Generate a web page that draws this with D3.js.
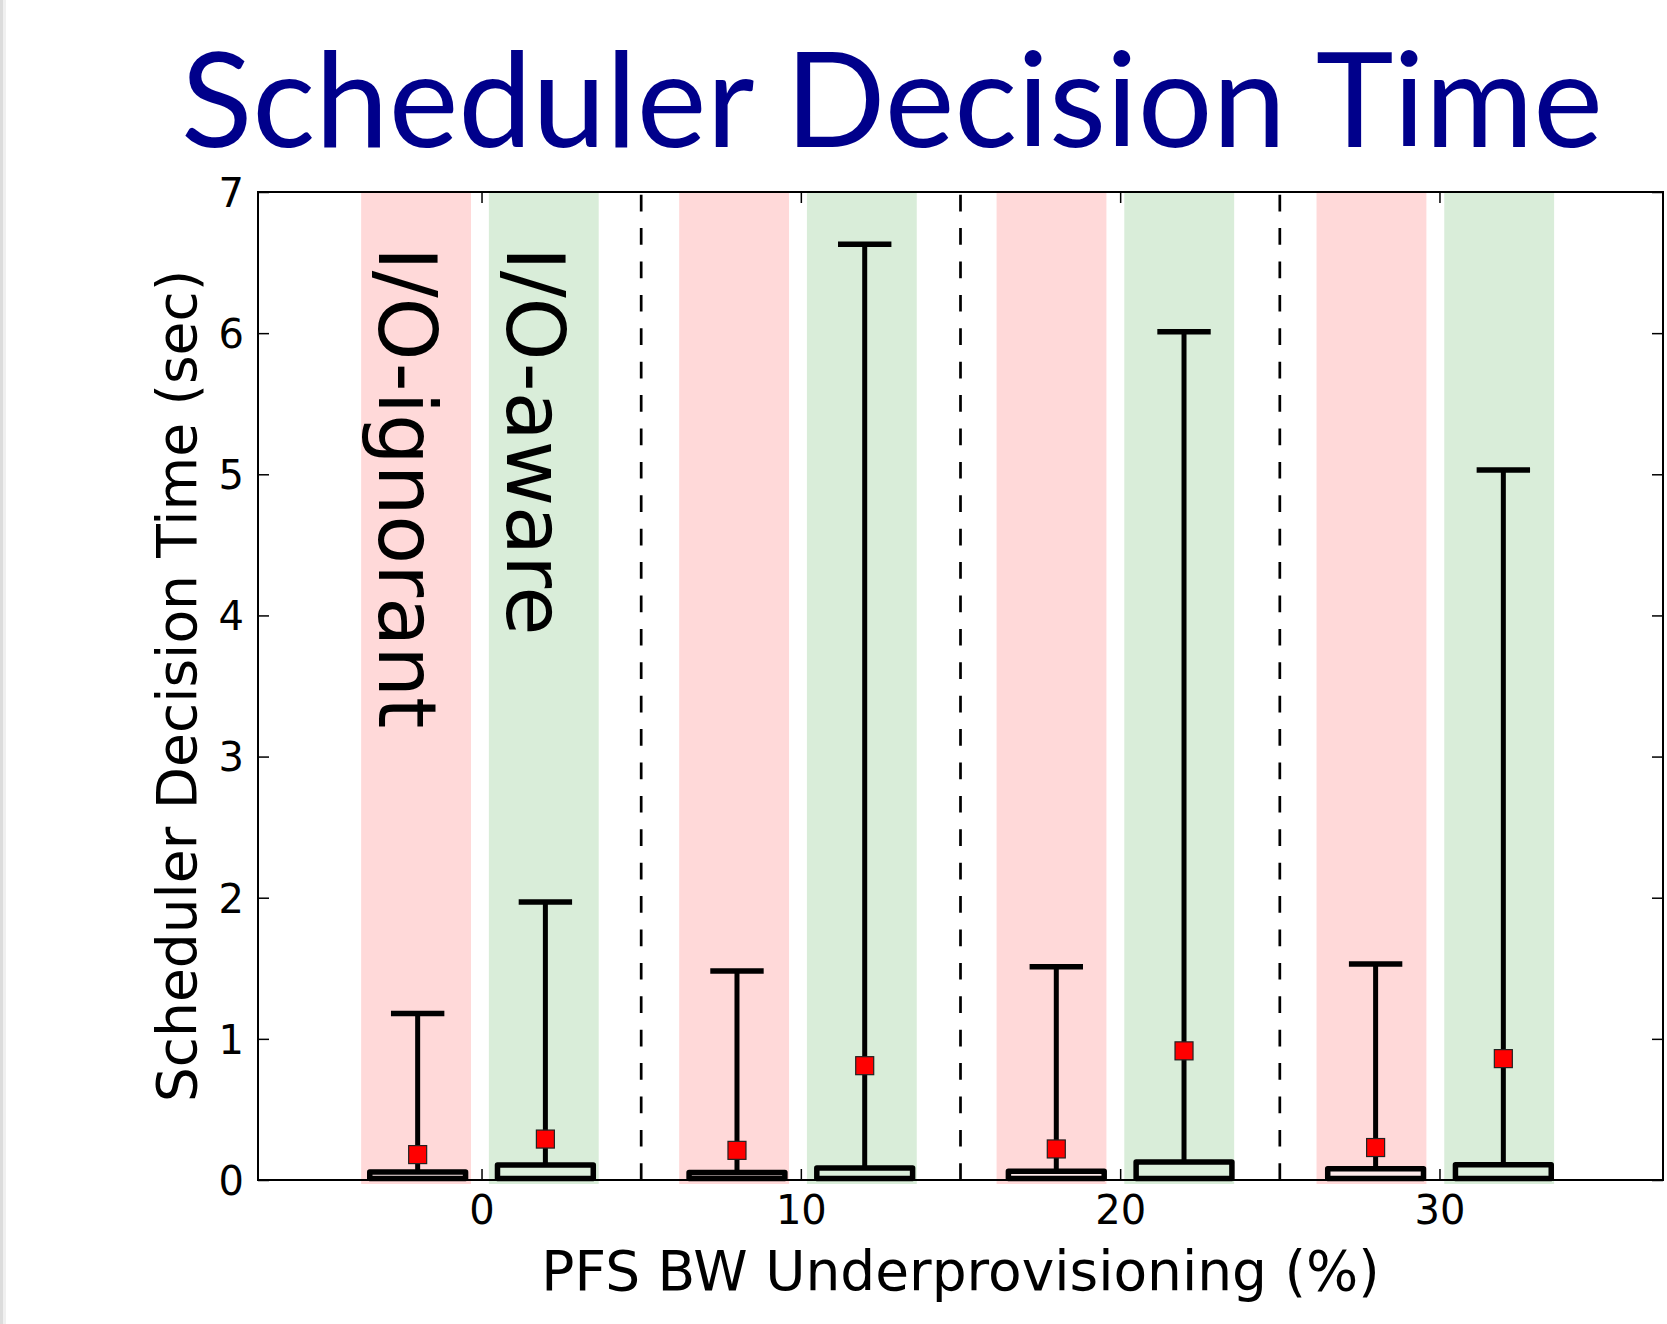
<!DOCTYPE html>
<meta charset="utf-8">
<style>
  body { margin: 0; background: #fff; }
</style>
<body>
<script src="https://cdn.jsdelivr.net/npm/d3@7/dist/d3.min.js"></script>
<script>

    var width = 1667,
        height = 1324;

    // data
    var groups = [0, 10, 20, 30];
    var seriesNames = ["I/O-ignorant", "I/O-aware"];
    var ignorantQ1 = [0.01, 0.01, 0.01, 0.01];
    var ignorantQ3 = [0.057, 0.054, 0.062, 0.08];
    var ignorantMean = [0.18, 0.21, 0.22, 0.23];
    var ignorantMax = [1.18, 1.48, 1.51, 1.53];
    var awareQ1 = [0.01, 0.01, 0.01, 0.01];
    var awareQ3 = [0.106, 0.085, 0.128, 0.108];
    var awareMean = [0.29, 0.81, 0.915, 0.86];
    var awareMax = [1.97, 6.63, 6.01, 5.03];
    var spanShift = [-0.05, -0.09, -0.15, -0.13];
    var xTicks = [0, 10, 20, 30];
    var yTicks = [0, 1, 2, 3, 4, 5, 6, 7];
    var dividers = [5, 15, 25];

    var margin = {left: 258, right: 4, top: 192, bottom: 144};

    var x = d3.scaleLinear().domain([-7, 37]).range([margin.left, width - margin.right]);
    var y = d3.scaleLinear().domain([0, 7]).range([height - margin.bottom, margin.top]);

    var svg = d3.select("body").append("svg")
            .attr("width", width)
            .attr("height", height)
            .style("display", "block");

    // slide edge shadow
    svg.append("rect").attr("x", 0).attr("y", 0).attr("width", 3).attr("height", height).attr("fill", "#dcdcdc");
    svg.append("rect").attr("x", 3).attr("y", 0).attr("width", 3).attr("height", height).attr("fill", "#f0f0f0");

    svg.append("text")
            .attr("x", 181)
            .attr("y", 147)
            .attr("textLength", 1422)
            .attr("lengthAdjust", "spacingAndGlyphs")
            .style("font-family", "Lato, 'Open Sans', sans-serif")
            .style("font-size", "131px")
            .style("fill", "#00008b")
            .text("Scheduler Decision Time");

    // build box records
    var boxes = [];
    groups.forEach(function(g, i) {
        boxes.push({c: g - 2, s: spanShift[i], q1: ignorantQ1[i], q3: ignorantQ3[i], mean: ignorantMean[i], max: ignorantMax[i],
                    band: "#ffd9d9", fill: "#fde9e9"});
        boxes.push({c: g + 2, s: spanShift[i], q1: awareQ1[i], q3: awareQ3[i], mean: awareMean[i], max: awareMax[i],
                    band: "#d9edd9", fill: "#dcefdc"});
    });

    var bandHalf = 1.72, boxHalf = 1.5, capHalf = 0.75;

    //背景色带
    svg.selectAll(".band").data(boxes).enter().append("rect")
            .attr("x", function(d) { return x(d.c + d.s - bandHalf); })
            .attr("width", function(d) { return x(d.c + bandHalf) - x(d.c - bandHalf); })
            .attr("y", y(7))
            .attr("height", y(0) - y(7) + 4)
            .attr("fill", function(d) { return d.band; });

    svg.selectAll(".divider").data(dividers).enter().append("line")
            .attr("x1", function(d) { return x(d); })
            .attr("x2", function(d) { return x(d); })
            .attr("y1", y(0))
            .attr("y2", y(7))
            .attr("stroke", "#000")
            .attr("stroke-width", 2.7)
            .attr("stroke-dasharray", "16.7,16.7");

    var g = svg.selectAll(".box").data(boxes).enter().append("g");

    g.append("line")
            .attr("x1", function(d) { return x(d.c); })
            .attr("x2", function(d) { return x(d.c); })
            .attr("y1", function(d) { return y(d.q3); })
            .attr("y2", function(d) { return y(d.max); })
            .attr("stroke", "#000")
            .attr("stroke-width", 5);

    g.append("line")
            .attr("x1", function(d) { return x(d.c - capHalf); })
            .attr("x2", function(d) { return x(d.c + capHalf); })
            .attr("y1", function(d) { return y(d.max); })
            .attr("y2", function(d) { return y(d.max); })
            .attr("stroke", "#000")
            .attr("stroke-width", 5.5)
            .attr("stroke-linecap", "square");

    g.append("rect")
            .attr("x", function(d) { return x(d.c - boxHalf); })
            .attr("width", function(d) { return x(d.c + boxHalf) - x(d.c - boxHalf); })
            .attr("y", function(d) { return y(d.q3); })
            .attr("height", function(d) { return y(d.q1) - y(d.q3); })
            .attr("fill", function(d) { return d.fill; })
            .attr("stroke", "#000")
            .attr("stroke-width", 5.5)
            .attr("stroke-linejoin", "round");

    g.append("rect")
            .attr("x", function(d) { return x(d.c) - 9; })
            .attr("y", function(d) { return y(d.mean) - 9; })
            .attr("width", 18)
            .attr("height", 18)
            .attr("fill", "#ff0000")
            .attr("stroke", "#222")
            .attr("stroke-width", 1.2);

    // rotated series labels inside the first group
    svg.selectAll(".series").data(seriesNames).enter().append("text")
            .attr("transform", function(d, i) {
                return "translate(" + x(i === 0 ? -3.2 : 0.8) + "," + y(6.61) + ") rotate(90)";
            })
            .style("font-family", "'DejaVu Sans', sans-serif")
            .style("font-size", "80px")
            .style("fill", "#000")
            .text(function(d) { return d; });

    // frame and inward ticks on all four sides
    var tickLen = 11;
    var tickFont = "'DejaVu Sans', sans-serif";

    var xAxisB = d3.axisBottom(x).tickValues(xTicks).tickSizeInner(-tickLen).tickSizeOuter(0).tickPadding(16).tickFormat(d3.format("d"));
    var xAxisT = d3.axisTop(x).tickValues(xTicks).tickSizeInner(-tickLen).tickSizeOuter(0).tickFormat("");
    var yAxisL = d3.axisLeft(y).tickValues(yTicks).tickSizeInner(-tickLen).tickSizeOuter(0).tickPadding(14).tickFormat(d3.format("d"));
    var yAxisR = d3.axisRight(y).tickValues(yTicks).tickSizeInner(-tickLen).tickSizeOuter(0).tickFormat("");

    function styleAxis(sel) {
        sel.select(".domain").remove();
        sel.selectAll(".tick line").attr("stroke", "#000").attr("stroke-width", 1.5);
        sel.selectAll(".tick text")
                .style("font-family", tickFont)
                .style("font-size", "40px")
                .attr("fill", "#000");
    }

    svg.append("g").attr("transform", "translate(0," + y(0) + ")").call(xAxisB).call(styleAxis)
            .selectAll(".tick text").attr("dy", "0.71em");
    svg.append("g").attr("transform", "translate(0," + y(7) + ")").call(xAxisT).call(styleAxis);
    svg.append("g").attr("transform", "translate(" + x(-7) + ",0)").call(yAxisL).call(styleAxis)
            .selectAll(".tick text").attr("dy", "0.36em");
    svg.append("g").attr("transform", "translate(" + x(37) + ",0)").call(yAxisR).call(styleAxis);

    svg.append("rect")
            .attr("x", x(-7))
            .attr("y", y(7))
            .attr("width", x(37) - x(-7))
            .attr("height", y(0) - y(7))
            .attr("fill", "none")
            .attr("stroke", "#000")
            .attr("stroke-width", 2);

    svg.append("text")
            .attr("x", (x(-7) + x(37)) / 2)
            .attr("y", 1290)
            .attr("text-anchor", "middle")
            .style("font-family", tickFont)
            .style("font-size", "55px")
            .text("PFS BW Underprovisioning (%)");

    svg.append("text")
            .attr("transform", "translate(196," + ((y(0) + y(7)) / 2) + ") rotate(-90)")
            .attr("text-anchor", "middle")
            .style("font-family", tickFont)
            .style("font-size", "55px")
            .text("Scheduler Decision Time (sec)");

</script>
